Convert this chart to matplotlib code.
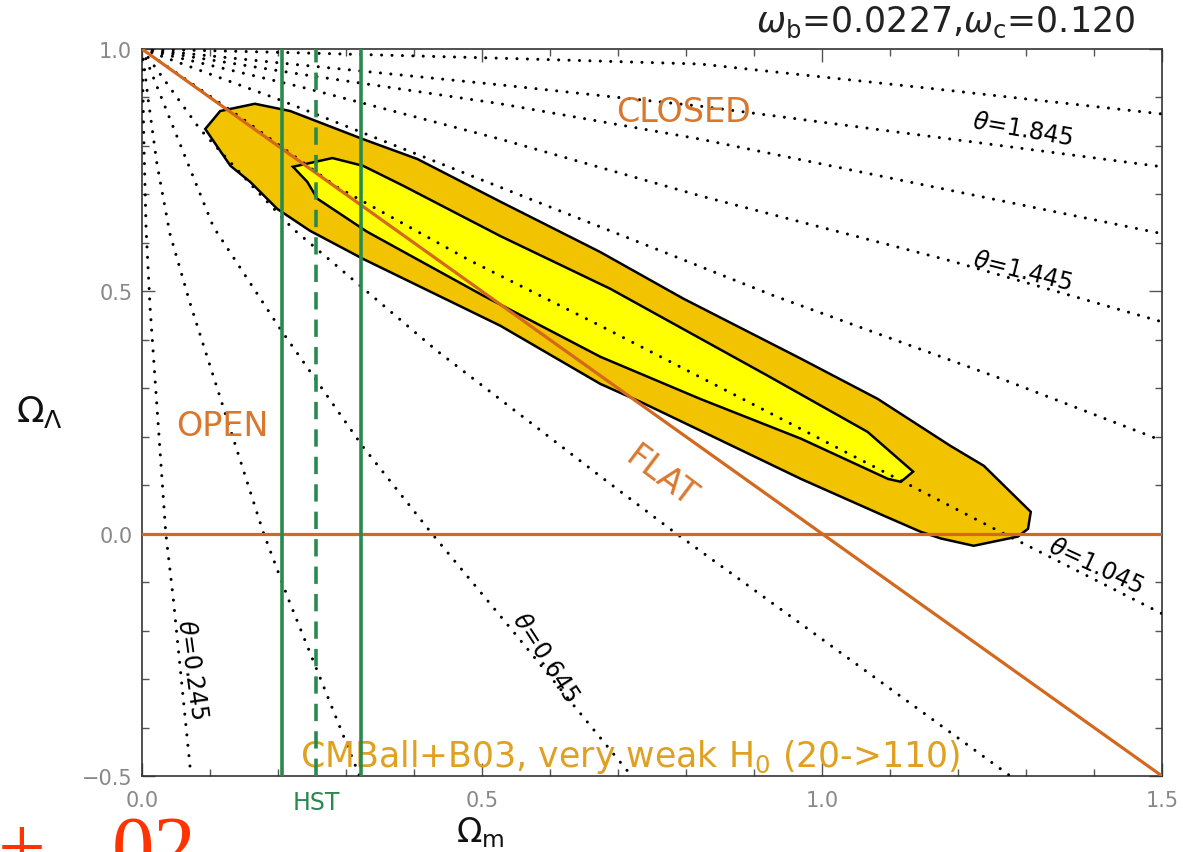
import matplotlib
matplotlib.use('Agg')
import matplotlib.pyplot as plt

# curves of constant acoustic angle theta, (Omega_m, Omega_Lambda)
theta_0245_om = [0.0, 0.003, 0.006, 0.012, 0.035, 0.046, 0.072]
theta_0245_ol = [1.0, 0.794, 0.629, 0.464, 0.0, -0.134, -0.5]
theta_0445_om = [0.0, 0.009, 0.022, 0.041, 0.071, 0.178, 0.215, 0.320]
theta_0445_ol = [1.0, 0.897, 0.763, 0.619, 0.474, 0.004, -0.134, -0.5]
theta_0645_om = [0.0, 0.041, 0.105, 0.203, 0.324, 0.424, 0.546, 0.720]
theta_0645_ol = [1.0, 0.856, 0.633, 0.423, 0.181, 0.004, -0.202, -0.5]
theta_0845_om = [0.0, 0.085, 0.159, 0.222, 0.434, 0.679, 0.782, 0.964, 1.277]
theta_0845_ol = [1.0, 0.835, 0.722, 0.629, 0.377, 0.113, 0.004, -0.181, -0.5]
theta_1045_om = [0.0, 0.144, 0.287, 0.483, 0.674, 0.969, 1.259, 1.5]
theta_1045_ol = [1.0, 0.860, 0.715, 0.563, 0.429, 0.216, 0.006, -0.165]
theta_1245_om = [0.0, 0.199, 0.674, 0.929, 1.263, 1.5]
theta_1245_ol = [1.0, 0.897, 0.633, 0.491, 0.320, 0.192]
theta_1445_om = [0.0, 0.233, 0.527, 0.821, 1.189, 1.5]
theta_1445_ol = [1.0, 0.922, 0.814, 0.697, 0.563, 0.437]
theta_1645_om = [0.0, 0.233, 0.527, 0.821, 1.5]
theta_1645_ol = [1.0, 0.948, 0.887, 0.814, 0.619]
theta_1845_om = [0.0, 0.233, 0.527, 0.821, 1.5]
theta_1845_ol = [1.0, 0.967, 0.926, 0.882, 0.757]
theta_2045_om = [0.0, 0.233, 0.527, 0.821, 1.164, 1.5]
theta_2045_ol = [1.0, 0.992, 0.981, 0.969, 0.918, 0.866]

# likelihood contours (2 sigma outer, 1 sigma inner)
outer_om = [0.093, 0.115, 0.166, 0.218, 0.325, 0.405, 0.527, 0.674, 0.796, 0.969,
            1.082, 1.189, 1.238, 1.307, 1.303, 1.288, 1.223, 1.175, 1.145, 1.091,
            0.969, 0.846, 0.733, 0.674, 0.527, 0.325, 0.247, 0.199, 0.159, 0.130]
outer_ol = [0.835, 0.872, 0.887, 0.872, 0.814, 0.773, 0.685, 0.581, 0.485, 0.361,
            0.278, 0.181, 0.140, 0.045, 0.010, -0.006, -0.025, -0.010, 0.004, 0.037,
            0.113, 0.196, 0.272, 0.309, 0.429, 0.567, 0.625, 0.670, 0.726, 0.759]
inner_om = [0.222, 0.280, 0.325, 0.384, 0.527, 0.689, 0.920, 1.067, 1.134, 1.116,
            1.097, 0.969, 0.821, 0.674, 0.502, 0.331, 0.258, 0.243]
inner_ol = [0.757, 0.775, 0.759, 0.718, 0.614, 0.505, 0.326, 0.210, 0.128, 0.107,
            0.113, 0.196, 0.278, 0.365, 0.491, 0.623, 0.691, 0.726]

# flat universe line and HST prior
flat_om = [0.0, 1.5]
flat_ol = [1.0, -0.5]
hst_lo, hst_mid, hst_hi = 0.206, 0.256, 0.322

curves = [
    (theta_0245_om, theta_0245_ol), (theta_0445_om, theta_0445_ol),
    (theta_0645_om, theta_0645_ol), (theta_0845_om, theta_0845_ol),
    (theta_1045_om, theta_1045_ol), (theta_1245_om, theta_1245_ol),
    (theta_1445_om, theta_1445_ol), (theta_1645_om, theta_1645_ol),
    (theta_1845_om, theta_1845_ol), (theta_2045_om, theta_2045_ol),
]

orange = '#D2691E'
green = '#2A8A4E'

fig = plt.figure(figsize=(11.83, 8.53), dpi=100)
ax = fig.add_axes([142 / 1183, 76 / 853, 1020 / 1183, 727 / 853])
ax.set_xlim(0, 1.5)
ax.set_ylim(-0.5, 1.0)

ax.fill(outer_om, outer_ol, facecolor='#F2C300', edgecolor='black', lw=1.8, zorder=1)
ax.fill(inner_om, inner_ol, facecolor='#FFFF00', edgecolor='black', lw=1.8, zorder=2)

for om, ol in curves:
    ax.plot(om, ol, color='black', lw=2.2, ls=(0, (0.01, 3.4)),
            dash_capstyle='round', zorder=3)

ax.axhline(0, color=orange, lw=2.3, zorder=4)
ax.plot(flat_om, flat_ol, color=orange, lw=2.3, zorder=4)

ax.axvline(hst_lo, color=green, lw=2.6, zorder=5)
ax.axvline(hst_hi, color=green, lw=2.6, zorder=5)
ax.axvline(hst_mid, color=green, lw=2.6, ls=(0, (4.8, 2.8)), zorder=5)

# region labels
lab = dict(color='#D9782D', fontsize=24, ha='center', va='center')
ax.text(0.796, 0.872, 'CLOSED', **lab)
ax.text(0.118, 0.223, 'OPEN', **lab)
ax.text(0.763, 0.118, 'FLAT', rotation=-37, rotation_mode='anchor', **lab)
ax.text(0.718, -0.458, r'CMBall+B03, very weak H$_0$ (20->110)', color='#E0A020',
        fontsize=25, ha='center', va='center')
ax.text(hst_mid, -0.553, 'HST', color=green, fontsize=17, ha='center', va='center',
        clip_on=False)

# theta labels
th = dict(fontsize=17, ha='center', va='center', rotation_mode='anchor', zorder=6)
ax.text(1.295, 0.835, r'$\theta$=1.845', rotation=-10, **th)
ax.text(1.295, 0.542, r'$\theta$=1.445', rotation=-14, **th)
ax.text(1.403, -0.066, r'$\theta$=1.045', rotation=-25, **th)
ax.text(0.593, -0.254, r'$\theta$=0.645', rotation=-57, **th)
ax.text(0.074, -0.278, r'$\theta$=0.245', rotation=-82, **th)

# axes style
for s in ax.spines.values():
    s.set_color('#333333')
    s.set_linewidth(1.2)
ax.set_xticks([0.0, 0.5, 1.0, 1.5])
ax.set_yticks([-0.5, 0.0, 0.5, 1.0])
ax.set_xticks([i / 10 for i in range(16)], minor=True)
ax.set_yticks([i / 10 - 0.5 for i in range(16)], minor=True)
ax.tick_params(which='both', direction='in', top=True, right=True,
               color='#555555', width=1, labelcolor='#888888', labelsize=15)
ax.tick_params(which='major', length=9.5)
ax.tick_params(which='minor', length=5)
ax.tick_params(axis='x', pad=10)
ax.tick_params(axis='y', pad=7)

fig.text(480 / 1183, 1 - 833 / 853, r'$\Omega_{\rm m}$', fontsize=24,
         ha='center', va='center', color='#111111')
fig.text(40 / 1183, 1 - 412 / 853, r'$\Omega_\Lambda$', fontsize=26,
         ha='center', va='center', color='#111111')
fig.text(1135 / 1183, 1 - 22 / 853, r'$\omega_{\rm b}$=0.0227,$\omega_{\rm c}$=0.120',
         fontsize=25, ha='right', va='center', color='#222222')

# stray slide text at the bottom-left corner (cut off in the original too)
red = dict(color='#FF3300', fontsize=61, family='Liberation Serif', va='baseline')
fig.text(-2 / 1183, -22 / 853, '+', **red)
fig.text(112 / 1183, -22 / 853, '02', **red)

fig.savefig('out.png', dpi=100, facecolor='white')
